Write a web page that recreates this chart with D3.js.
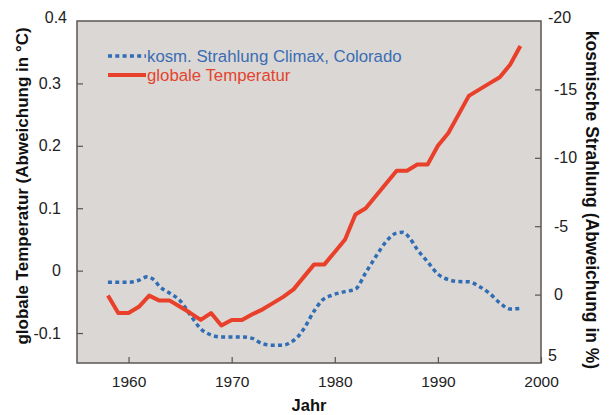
<html>
    <head>
        <meta charset="utf-8">
        <!-- Importing D3.js for data visualization -->
        <script src="https://d3js.org/d3.v7.min.js"></script>
        <style>
            html, body {
                margin: 0;
                padding: 0;
                background: #ffffff;
            }
            svg {
                display: block;
                font-family: "Liberation Sans", Arial, sans-serif;
            }
            .axis text {
                font-size: 15.5px;
                fill: #222222;
            }
            .axis path {
                display: none;
            }
            .axis line {
                stroke: #555555;
                stroke-width: 1.2px;
            }
        </style>
    </head>
    <body>
        <div id="myDiv"></div>
        <script>
            // global temperature (deviation in °C), left axis
            const tempYears = [1958, 1959, 1960, 1961, 1962, 1963, 1964, 1965, 1966, 1967, 1968, 1969,
                1970, 1971, 1972, 1973, 1974, 1975, 1976, 1977, 1978, 1979, 1980, 1981, 1982, 1983,
                1984, 1985, 1986, 1987, 1988, 1989, 1990, 1991, 1992, 1993, 1994, 1995, 1996, 1997, 1998];
            const tempValues = [-0.04, -0.068, -0.068, -0.058, -0.04, -0.048, -0.048, -0.058, -0.068, -0.079, -0.068, -0.088,
                -0.079, -0.079, -0.07, -0.062, -0.052, -0.042, -0.03, -0.01, 0.01, 0.01, 0.03, 0.05, 0.09, 0.1,
                0.12, 0.14, 0.16, 0.16, 0.17, 0.17, 0.2, 0.22, 0.25, 0.28, 0.29, 0.3, 0.31, 0.33, 0.36];

            // cosmic rays Climax, Colorado (deviation in %), right axis (reversed)
            const rayYears = [1958, 1959, 1960, 1961, 1961.8, 1962.5, 1963, 1964, 1965, 1966, 1967, 1968, 1969,
                1970, 1971, 1972, 1973, 1974, 1975, 1975.7, 1976.4, 1977, 1978, 1978.8, 1979.6, 1981, 1982,
                1983, 1984, 1985, 1986, 1986.6, 1987.2, 1988, 1989, 1990, 1991, 1992, 1993, 1994, 1995,
                1996, 1997, 1998];
            const rayValues = [-0.9, -0.9, -0.9, -1.05, -1.3, -1.05, -0.6, -0.1, 0.45, 1.5, 2.5, 2.95, 3.1,
                3.1, 3.1, 3.2, 3.6, 3.7, 3.7, 3.5, 3.1, 2.5, 1.2, 0.4, 0.08, -0.22, -0.4,
                -1.6, -2.8, -3.9, -4.5, -4.55, -4.2, -3.3, -2.4, -1.5, -1.1, -0.95, -0.94, -0.6, -0.1,
                0.6, 1.05, 1.0];

            // tick labels
            const yearTicks = [1960, 1970, 1980, 1990, 2000];
            const tempTicks = [0.4, 0.3, 0.2, 0.1, 0, -0.1];
            const rayTicks = [-20, -15, -10, -5, 0, 5];

            const seriesNames = ["kosm. Strahlung Climax, Colorado", "globale Temperatur"];

            const width = 611;
            const height = 415;
            const margin = {top: 21, right: 70, bottom: 52, left: 77};

            const blue = "#2f6db5";
            const red = "#e8402a";

            // plain hyphen instead of d3's unicode minus
            const fmt = d => String(d);

            const svg = d3.select("#myDiv")
                .append("svg")
                .attr("width", width)
                .attr("height", height);

            const xScale = d3.scaleLinear()
                .domain([1955, 2000])
                .range([margin.left, width - margin.right]);

            const yTemp = d3.scaleLinear()
                .domain([-0.148, 0.4])
                .range([height - margin.bottom, margin.top]);

            const yRay = d3.scaleLinear()
                .domain([5, -20])
                .range([height - margin.bottom, margin.top]);

            // plot background
            svg.append("rect")
                .attr("x", margin.left)
                .attr("y", margin.top)
                .attr("width", width - margin.left - margin.right)
                .attr("height", height - margin.top - margin.bottom)
                .attr("fill", "#dbd7d4");

            // axes, ticks point inward
            svg.append("g")
                .attr("class", "axis")
                .attr("transform", `translate(0,${height - margin.bottom})`)
                .call(d3.axisBottom(xScale).tickValues(yearTicks).tickFormat(fmt)
                    .tickSizeInner(-6).tickSizeOuter(0).tickPadding(13));

            svg.append("g")
                .attr("class", "axis")
                .attr("transform", `translate(${margin.left},0)`)
                .call(d3.axisLeft(yTemp).tickValues(tempTicks.filter(d => d < 0.4))
                    .tickFormat(fmt)
                    .tickSizeInner(-6).tickSizeOuter(0).tickPadding(16))
                .selectAll("text").style("font-size", "16px");

            svg.append("g")
                .attr("class", "axis")
                .attr("transform", `translate(${width - margin.right},0)`)
                .call(d3.axisRight(yRay).tickValues(rayTicks.filter(d => d !== -20 && d !== 5))
                    .tickFormat(fmt)
                    .tickSizeInner(-6).tickSizeOuter(0).tickPadding(13))
                .selectAll("text").style("font-size", "16px");

            // end labels drawn at the frame corners
            svg.append("text")
                .attr("x", margin.left - 10)
                .attr("y", yTemp(0.4) - 3)
                .attr("dy", "0.32em")
                .attr("text-anchor", "end")
                .style("font-size", "16px")
                .attr("fill", "#222")
                .text(fmt(tempTicks[0]));

            svg.append("text")
                .attr("x", width - margin.right + 7)
                .attr("y", yRay(-20) - 3)
                .attr("dy", "0.32em")
                .style("font-size", "16px")
                .attr("fill", "#222")
                .text(fmt(rayTicks[0]));

            svg.append("text")
                .attr("x", width - margin.right + 7)
                .attr("y", yRay(5) - 7)
                .attr("dy", "0.32em")
                .style("font-size", "16px")
                .attr("fill", "#222")
                .text(fmt(rayTicks[5]));

            // frame
            svg.append("rect")
                .attr("x", margin.left)
                .attr("y", margin.top)
                .attr("width", width - margin.left - margin.right)
                .attr("height", height - margin.top - margin.bottom)
                .attr("fill", "none")
                .attr("stroke", "#5a5654")
                .attr("stroke-width", 1.5);

            // lines
            const rayLine = d3.line()
                .x((d, i) => xScale(rayYears[i]))
                .y(d => yRay(d))
                .curve(d3.curveMonotoneX);

            const tempLine = d3.line()
                .x((d, i) => xScale(tempYears[i]))
                .y(d => yTemp(d));

            svg.append("path")
                .datum(rayValues)
                .attr("fill", "none")
                .attr("stroke", blue)
                .attr("stroke-width", 3.5)
                .attr("stroke-dasharray", "4,3.3")
                .attr("d", rayLine);

            svg.append("path")
                .datum(tempValues)
                .attr("fill", "none")
                .attr("stroke", red)
                .attr("stroke-width", 4)
                .attr("stroke-linejoin", "round")
                .attr("d", tempLine);

            // legend
            const legend = svg.append("g").attr("transform", "translate(108,56)");
            const legendStyles = [
                {color: blue, dash: "4,3.3", width: 3.5, textColor: "#3a6db3"},
                {color: red, dash: null, width: 4, textColor: "#e2452f"}
            ];
            seriesNames.forEach((name, i) => {
                const s = legendStyles[i];
                legend.append("line")
                    .attr("x1", 0).attr("x2", 38)
                    .attr("y1", i * 19).attr("y2", i * 19)
                    .attr("stroke", s.color)
                    .attr("stroke-width", s.width)
                    .attr("stroke-dasharray", s.dash);
                legend.append("text")
                    .attr("x", 39)
                    .attr("y", i * 19)
                    .attr("dy", "0.35em")
                    .style("font-size", "16.8px")
                    .attr("fill", s.textColor)
                    .text(name);
            });

            // axis titles
            svg.append("text")
                .attr("transform", `translate(28,186) rotate(-90)`)
                .attr("text-anchor", "middle")
                .style("font-size", "17px")
                .style("font-weight", "bold")
                .attr("fill", "#111")
                .text("globale Temperatur (Abweichung in °C)");

            svg.append("text")
                .attr("transform", `translate(586,200) rotate(90)`)
                .attr("text-anchor", "middle")
                .style("font-size", "17.5px")
                .style("font-weight", "bold")
                .attr("fill", "#111")
                .text("kosmische Strahlung (Abweichung in %)");

            svg.append("text")
                .attr("x", (margin.left + width - margin.right) / 2)
                .attr("y", 411)
                .attr("text-anchor", "middle")
                .style("font-size", "16.5px")
                .style("font-weight", "bold")
                .attr("fill", "#111")
                .text("Jahr");
        </script>
    </body>
</html>
